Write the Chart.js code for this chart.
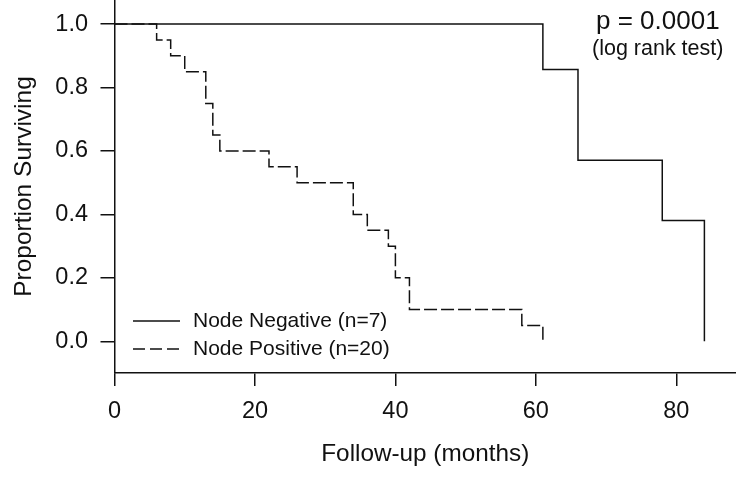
<!DOCTYPE html>
<html>
<head>
<meta charset="utf-8">
<script src="https://cdn.jsdelivr.net/npm/chart.js@4.4.1/dist/chart.umd.min.js"></script>
<style>
  html, body { margin: 0; padding: 0; background: #fff; }
  #wrap { width: 736px; height: 479px; }
</style>
</head>
<body>
<div id="wrap"><canvas id="km" width="736" height="479"></canvas></div>
<script>
// Kaplan-Meier step points (months, proportion surviving)
const negTimes = [0, 61, 66, 78, 84];
const negSurv = [1.0, 0.857, 0.571, 0.381, 0.0];
const posTimes = [0, 6, 8, 10, 13, 14, 15, 22, 26, 34, 36, 39, 40, 42, 58, 61];
const posSurv = [1.0, 0.95, 0.90, 0.85, 0.75, 0.65, 0.60, 0.55, 0.50, 0.40, 0.35, 0.30, 0.20, 0.10, 0.05, 0.0];

const xTicks = [0, 20, 40, 60, 80];
const yTicks = [0.0, 0.2, 0.4, 0.6, 0.8, 1.0];

const legendLabels = ['Node Negative (n=7)', 'Node Positive (n=20)'];
const pText = 'p = 0.0001';
const testText = '(log rank test)';

const FONT = '"Liberation Sans", Arial, sans-serif';
const INK = '#111';
const DASH = [13, 4];

function toPoints(xs, ys) {
  return xs.map((x, i) => ({ x, y: ys[i] }));
}

// legend and p-value note, drawn inside the plot like the original figure
const notes = {
  id: 'notes',
  afterDraw(chart) {
    const ctx = chart.ctx;
    ctx.save();
    ctx.strokeStyle = INK;
    ctx.fillStyle = INK;
    ctx.lineWidth = 1.5;
    ctx.textBaseline = 'middle';
    ctx.textAlign = 'left';

    const rows = [321, 349];
    rows.forEach((y, i) => {
      ctx.setLineDash(i === 0 ? [] : [12, 5]);
      ctx.beginPath();
      ctx.moveTo(133, y);
      ctx.lineTo(180, y);
      ctx.stroke();
      ctx.setLineDash([]);
      ctx.font = '21px ' + FONT;
      ctx.fillText(legendLabels[i], 193, y);
    });

    ctx.font = '26px ' + FONT;
    ctx.fillText(pText, 596, 22);
    ctx.font = '21.5px ' + FONT;
    ctx.fillText(testText, 592, 49);
    ctx.restore();
  }
};

new Chart(document.getElementById('km'), {
  type: 'line',
  data: {
    datasets: [
      {
        label: legendLabels[1],
        data: toPoints(posTimes, posSurv),
        stepped: true,
        borderColor: INK,
        borderWidth: 1.5,
        borderDash: DASH,
        pointRadius: 0,
        fill: false,
      },
      {
        label: legendLabels[0],
        data: toPoints(negTimes, negSurv),
        stepped: true,
        borderColor: INK,
        borderWidth: 1.5,
        pointRadius: 0,
        fill: false,
      },
    ],
  },
  options: {
    responsive: false,
    animation: false,
    devicePixelRatio: 1,
    layout: { padding: 0 },
    plugins: {
      legend: { display: false },
      tooltip: { enabled: false },
    },
    scales: {
      x: {
        type: 'linear',
        min: 0,
        max: 88.5,
        afterBuildTicks: (s) => { s.ticks = xTicks.map(v => ({ value: v })); },
        afterFit: (s) => { s.height = 106; s.paddingLeft = 0; s.paddingRight = 0; },
        ticks: {
          color: INK,
          font: { family: FONT, size: 23.5 },
          padding: 11,
          maxRotation: 0,
          callback: (v) => String(v),
        },
        grid: {
          drawOnChartArea: false,
          drawTicks: true,
          tickLength: 13,
          color: INK,
          lineWidth: 1.5,
        },
        border: { display: true, color: INK, width: 1.5 },
        title: {
          display: true,
          text: 'Follow-up (months)',
          color: INK,
          font: { family: FONT, size: 24.3 },
          padding: { top: 0, bottom: 10.5 },
        },
      },
      y: {
        type: 'linear',
        min: -0.1,
        max: 1.076,
        afterBuildTicks: (s) => { s.ticks = yTicks.map(v => ({ value: v })); },
        afterFit: (s) => { s.width = 114.5; s.paddingTop = 0; s.paddingBottom = 0; },
        ticks: {
          color: INK,
          font: { family: FONT, size: 23.5 },
          padding: 12.5,
          callback: (v) => Number(v).toFixed(1),
        },
        grid: {
          drawOnChartArea: false,
          drawTicks: true,
          tickLength: 14,
          color: INK,
          lineWidth: 1.5,
        },
        border: { display: true, color: INK, width: 1.5 },
        title: {
          display: true,
          text: 'Proportion Surviving',
          color: INK,
          font: { family: FONT, size: 24.5 },
          padding: { top: 10, bottom: 0 },
        },
      },
    },
  },
  plugins: [notes],
});
</script>
</body>
</html>
